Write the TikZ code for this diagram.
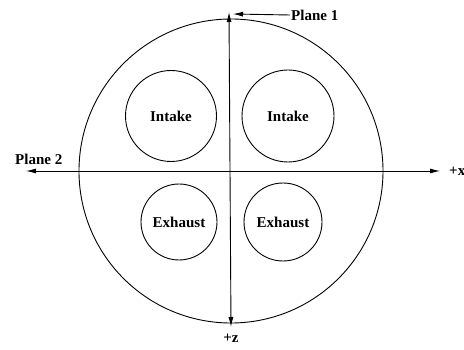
\documentclass[tikz,border=0pt]{standalone}
\usepackage{fontspec}
\setmainfont{Liberation Serif}
\usetikzlibrary{arrows.meta, positioning}

\begin{document}
\begin{tikzpicture}[
    x=1pt, y=-1pt,
    node distance=2pt and 4pt,
    port/.style={circle, draw, line width=0.9pt, inner sep=0pt,
                 font=\fontsize{15}{17}\selectfont\bfseries},
    tag/.style={font=\fontsize{15}{17}\selectfont\bfseries, inner sep=1pt},
    axis/.style={{Latex[length=10pt,width=5pt]}-{Latex[length=10pt,width=5pt]}, line width=0.9pt},
    pointer/.style={-{Latex[length=10pt,width=5pt]}, line width=0.9pt}
]
\useasboundingbox (0,0) rectangle (464,350);

% Cylinder head outline
\node[circle, draw, line width=0.9pt, minimum size=304pt, inner sep=0pt] (head) at (231,171) {};

% Valves
\node[port, minimum size=91pt] (intakeL) at (171,116) {Intake};
\node[port, minimum size=92pt] (intakeR) at (288,116) {Intake};
\node[port, minimum size=76pt] (exhaustL) at (179,222) {Exhaust};
\node[port, minimum size=78pt] (exhaustR) at (283,222) {Exhaust};

% Planes
\coordinate (xneg) at (26,171);
\coordinate (xpos) at (440,171);
\coordinate (ztop) at (229,12);
\coordinate (zbot) at (231,327);
\coordinate (p1tip) at (233,14);
\draw[axis] (xneg) -- (xpos);
\draw[axis] (ztop) -- (zbot);

% Labels
\node[tag, right=8pt of xpos] (xlabel) {+x};
\node[tag, below=6pt of zbot] (zlabel) {+z};
\node[tag, anchor=west] (plane1) at (290,15) {Plane 1};
\node[tag, anchor=south west] (plane2) at (14,166) {Plane 2};
\draw[pointer] (plane1.west) -- (p1tip);

\end{tikzpicture}
\end{document}
